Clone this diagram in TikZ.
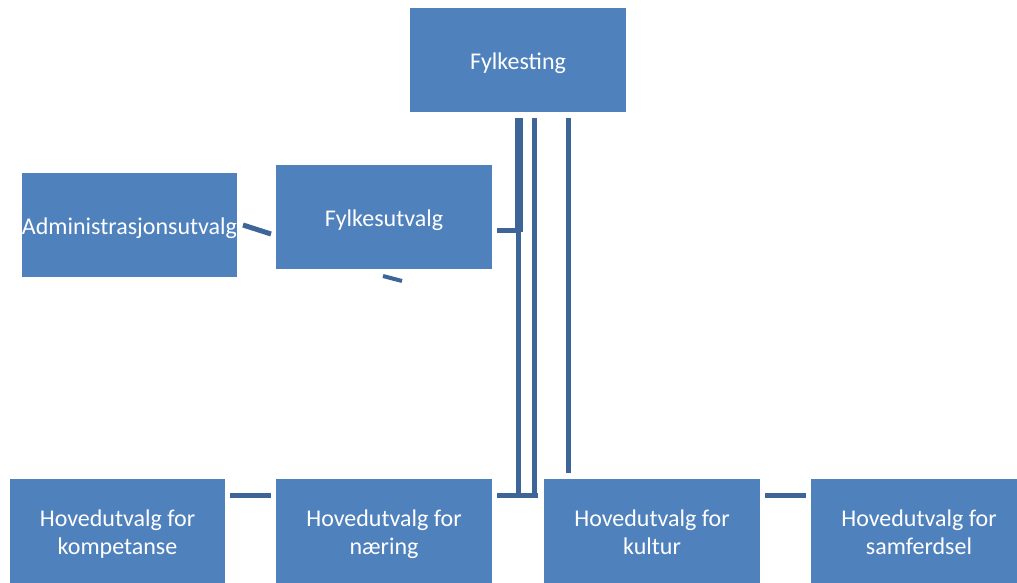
\documentclass[tikz,border=0pt]{standalone}
\usepackage{fontspec}
\setmainfont{Carlito}
\newcommand{\tstrx}{\rule{0pt}{28pt}}
\newcommand{\bstrx}{\rule[-9pt]{0pt}{9pt}}
\begin{document}
\begin{tikzpicture}[x=1pt,y=-1pt,
  box/.style={rectangle, fill=boxblue, text=white, inner sep=0pt,
    minimum width=216pt, minimum height=104pt, align=center,
    font=\fontsize{24}{27.5}\selectfont},
  conn/.style={draw=lineblue, line width=5pt},
  thickconn/.style={draw=lineblue, line width=8pt}]
\definecolor{boxblue}{RGB}{79,129,189}
\definecolor{lineblue}{RGB}{61,101,152}
\useasboundingbox (0,0) rectangle (1017,583);
\node[box] (fting) at (518,60) {\tstrx Fylkesting\bstrx};
\node[box, minimum width=215pt] (admin) at (129.5,225) {\tstrx Administrasjonsutvalg\bstrx};
\node[box] (futv) at (384,217) {\tstrx Fylkesutvalg\bstrx};
\node[box, minimum width=215pt] (komp) at (117.5,531) {\tstrx Hovedutvalg for\\kompetanse\bstrx};
\node[box] (naer) at (384,531) {\tstrx Hovedutvalg for\\næring\bstrx};
\node[box] (kult) at (652,531) {\tstrx Hovedutvalg for\\kultur\bstrx};
\node[box] (samf) at (919,531) {\tstrx Hovedutvalg for\\samferdsel\bstrx};
% named coordinates for connector ends
\coordinate (t1) at (519,118);
\coordinate (j1) at (519,232);
\coordinate (h1a) at (497,230);
\coordinate (h1b) at (521,230);
\coordinate (m1) at (518,230);
\coordinate (b1) at (518,497);
\coordinate (t2) at (534,118);
\coordinate (b2) at (534,497);
\coordinate (t3) at (568,118);
\coordinate (b3) at (568,473);
\coordinate (hba) at (497,495);
\coordinate (hbb) at (538,495);
\draw[thickconn] (t1) -- (j1);
\draw[conn] (h1a) -- (h1b);
\draw[conn] (m1) -- (b1);
\draw[conn] (t2) -- (b2);
\draw[conn] (t3) -- (b3);
\draw[conn] (hba) -- (hbb);
% side connectors
\coordinate (d1a) at (243,225);
\coordinate (d1b) at (271,234);
\coordinate (d2a) at (383,276);
\coordinate (d2b) at (402,281);
\draw[conn] (d1a) -- (d1b);
\draw[conn, line width=4pt] (d2a) -- (d2b);
\coordinate (k1) at (230,495);
\coordinate (k2) at (271,495);
\draw[conn] (k1) -- (k2);
\coordinate (s1) at (765,495);
\coordinate (s2) at (806,495);
\draw[conn] (s1) -- (s2);
\end{tikzpicture}
\end{document}
